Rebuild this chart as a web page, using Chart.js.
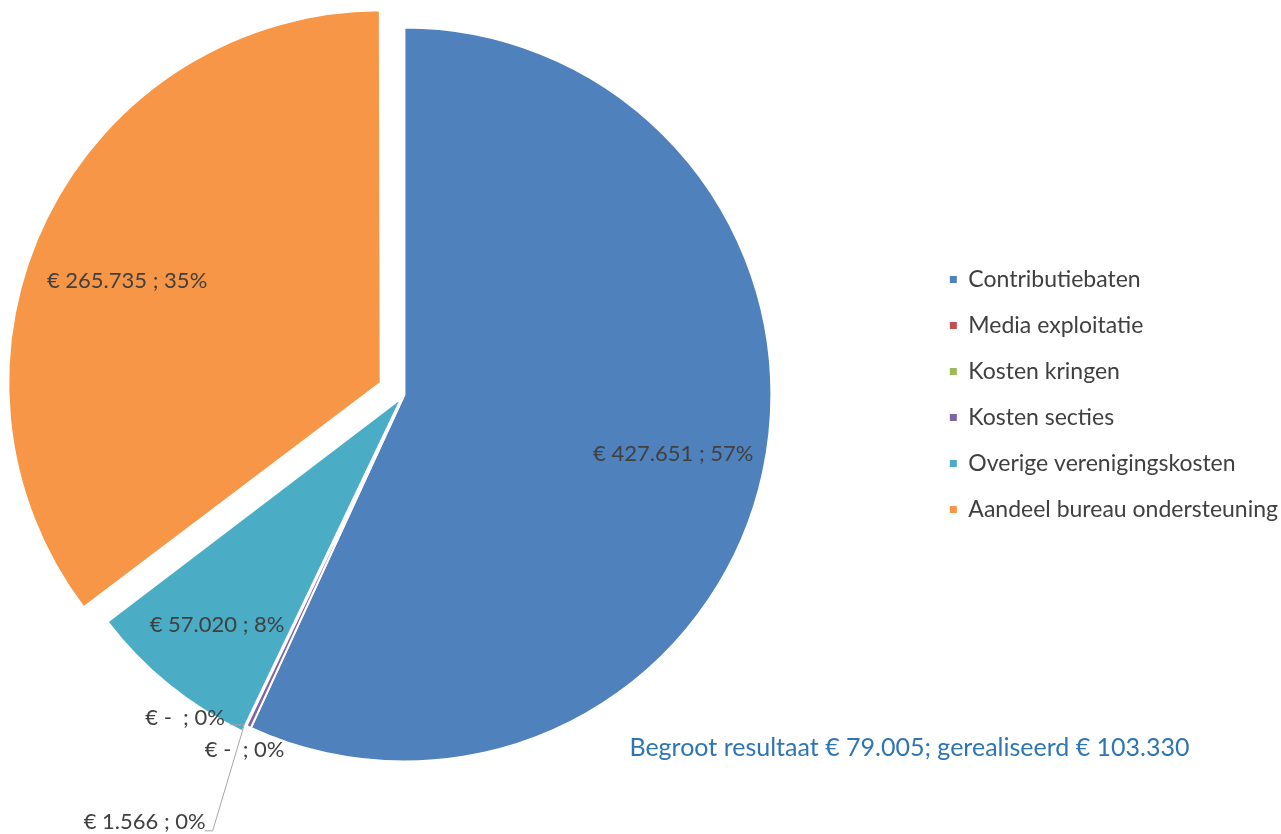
<!DOCTYPE html>
<html>
<head>
<meta charset="utf-8">
<script src="https://cdn.jsdelivr.net/npm/chart.js@4.4.1/dist/chart.umd.min.js"></script>
<style>
html, body { margin: 0; padding: 0; background: #fff; overflow: hidden; }
/* canvas iets naar links geschoven zodat de taart links staat en de legenda rechts */
#wrap { width: 1406px; height: 834px; position: relative; margin-left: -118px; }
</style>
</head>
<body>
<div id="wrap"><canvas id="begroting"></canvas></div>
<script>
const categorieen = ['Contributiebaten', 'Media exploitatie', 'Kosten kringen', 'Kosten secties', 'Overige verenigingskosten', 'Aandeel bureau ondersteuning'];
const bedragen = [427651, 0, 0, 1566, 57020, 265735];
const kleuren = ['#4F81BD', '#C0504D', '#9BBB59', '#8064A2', '#4BACC6', '#F79646'];
const onderschrift = 'Begroot resultaat € 79.005; gerealiseerd € 103.330';

const totaal = bedragen.reduce((a, b) => a + b, 0);

function bedrag(v) {
    if (v === 0) return '€ -  ';
    return '€ ' + v.toString().replace(/\B(?=(\d{3})+(?!\d))/g, '.') + ' ';
}

function labelTekst(i) {
    return bedrag(bedragen[i]) + '; ' + Math.round(bedragen[i] / totaal * 100) + '%';
}

// labels in/naast de taartpunten + onderschrift
const labels = {
    id: 'labels',
    afterDatasetsDraw(chart) {
        const ctx = chart.ctx;
        const meta = chart.getDatasetMeta(0);
        ctx.save();
        ctx.font = '22px Lato';
        ctx.fillStyle = '#404040';
        ctx.strokeStyle = '#a6a6a6';
        ctx.lineWidth = 1;
        ctx.textBaseline = 'middle';
        let k = 0;
        meta.data.forEach((arc, i) => {
            const p = arc.getProps(['x', 'y', 'startAngle', 'endAngle', 'outerRadius'], true);
            const mid = (p.startAngle + p.endAngle) / 2;
            const circ = p.endAngle - p.startAngle;
            const off = (arc.options.offset || 0) / 4 * (2 - Math.sin(Math.min(Math.PI, circ)));
            const cx = p.x + Math.cos(mid) * off;
            const cy = p.y + Math.sin(mid) * off;
            const tekst = labelTekst(i);
            if (bedragen[i] / totaal > 0.05) {
                let r = p.outerRadius * 0.75;
                let hoek = mid;
                if (circ < 1) r = p.outerRadius * 0.79;
                if (arc.options.offset > 50) { r = p.outerRadius * 0.73; hoek = mid - 0.08; }
                ctx.textAlign = 'center';
                ctx.fillText(tekst, cx + Math.cos(hoek) * r, cy + Math.sin(hoek) * r);
                return;
            }
            const ax = cx + Math.cos(mid) * p.outerRadius;
            const ay = cy + Math.sin(mid) * p.outerRadius;
            ctx.beginPath();
            if (k === 0) {
                ctx.textAlign = 'right';
                ctx.fillText(tekst, ax - 26, ay - 10);
                ctx.moveTo(ax - 21, ay - 3);
                ctx.lineTo(ax - 6, ay - 3);
            } else if (k === 1) {
                ctx.textAlign = 'left';
                ctx.fillText(tekst, ax - 46, ay + 22);
            } else {
                ctx.textAlign = 'right';
                ctx.fillText(tekst, ax - 43, ay + 95);
                ctx.moveTo(ax - 5, ay);
                ctx.lineTo(ax - 36, ay + 104);
                ctx.lineTo(ax - 44, ay + 104);
            }
            ctx.stroke();
            k++;
        });
        const area = chart.chartArea;
        ctx.font = '25px Lato';
        ctx.fillStyle = '#2e75b6';
        ctx.textAlign = 'left';
        ctx.fillText(onderschrift, (area.left + area.right) / 2 + 225, (area.top + area.bottom) / 2 + 353);
        ctx.restore();
    }
};

const begroting = document.getElementById('begroting');

new Chart(begroting, {
    type: 'pie',
    data: {
        labels: categorieen,
        datasets: [{
            data: bedragen,
            backgroundColor: kleuren,
            borderColor: '#ffffff',
            borderWidth: 2,
            offset: [0, 0, 0, 0, 18, 106],
            radius: 367,
            clip: false
        }]
    },
    options: {
        responsive: true,
        maintainAspectRatio: false,
        animation: false,
        layout: {
            padding: { left: 0, right: 0, top: 0, bottom: 45 }
        },
        plugins: {
            tooltip: { enabled: false },
            legend: {
                position: 'right',
                labels: {
                    boxWidth: 7,
                    boxHeight: 7,
                    padding: 23,
                    color: '#404040',
                    font: {
                        family: 'Lato',
                        size: 23
                    },
                    generateLabels(chart) {
                        const items = Chart.overrides.pie.plugins.legend.labels.generateLabels(chart);
                        return items.map(item => Object.assign(item, { lineWidth: 0 }));
                    }
                }
            }
        }
    },
    plugins: [labels]
});
</script>
</body>
</html>
